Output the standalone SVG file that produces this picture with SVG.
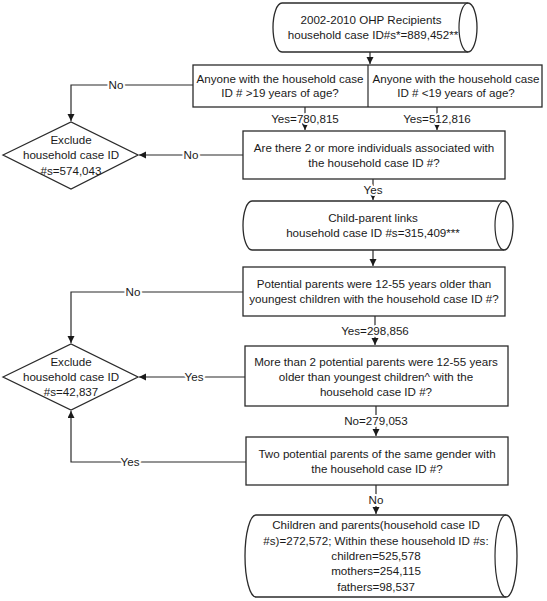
<svg xmlns="http://www.w3.org/2000/svg" width="547" height="601" viewBox="0 0 547 601">
<defs>
<style>
.shape{fill:#fff;stroke:#2b2b2b;stroke-width:1.3}
.line{fill:none;stroke:#2b2b2b;stroke-width:1.2}
text{font-family:"Liberation Sans",Arial,sans-serif;font-size:11.6px;fill:#1a1a1a;text-anchor:middle}
.lbl{stroke:#fff;stroke-width:4px;paint-order:stroke;stroke-linejoin:round}
</style>
<marker id="arr" markerUnits="userSpaceOnUse" markerWidth="8" markerHeight="8" refX="7" refY="3.5" orient="auto">
<path d="M0,0 L7,3.5 L0,7 Z" fill="#1a1a1a"/>
</marker>
</defs>
<rect width="547" height="601" fill="#fff"/>

<g id="connectors">
<path class="line" d="M370,52 V64" marker-end="url(#arr)"/>
<path class="line" d="M193,85 H71 V121" marker-end="url(#arr)"/>
<path class="line" d="M305,107 V130" marker-end="url(#arr)"/>
<path class="line" d="M437,107 V130" marker-end="url(#arr)"/>
<path class="line" d="M243,155 H139" marker-end="url(#arr)"/>
<path class="line" d="M373,179 V200" marker-end="url(#arr)"/>
<path class="line" d="M373,250 V266" marker-end="url(#arr)"/>
<path class="line" d="M243,292 H71 V343" marker-end="url(#arr)"/>
<path class="line" d="M375,316 V345" marker-end="url(#arr)"/>
<path class="line" d="M245,377 H139" marker-end="url(#arr)"/>
<path class="line" d="M376,406 V436" marker-end="url(#arr)"/>
<path class="line" d="M246,462 H71 V411" marker-end="url(#arr)"/>
<path class="line" d="M376,485 V514" marker-end="url(#arr)"/>
<text class="lbl" x="116" y="89">No</text>
<text class="lbl" x="305" y="123">Yes=780,815</text>
<text class="lbl" x="437" y="123">Yes=512,816</text>
<text class="lbl" x="191" y="159">No</text>
<text class="lbl" x="373" y="194">Yes</text>
<text class="lbl" x="133" y="296">No</text>
<text class="lbl" x="375" y="335">Yes=298,856</text>
<text class="lbl" x="194" y="381">Yes</text>
<text class="lbl" x="376" y="425">No=279,053</text>
<text class="lbl" x="130" y="466">Yes</text>
<text class="lbl" x="376" y="504">No</text>
</g>

<g id="start">
<path class="shape" d="M282,3 A9,24.5 0 0 0 282,52 L468,52 A9,24.5 0 0 0 468,3 Z"/>
<path class="line" d="M468,3 A9,24.5 0 0 0 468,52"/>
<text x="371" y="24">2002-2010 OHP Recipients</text>
<text x="373" y="39">household case ID#s*=889,452**</text>
</g>

<g id="age-check">
<rect class="shape" x="193" y="65" width="349" height="42"/>
<line class="line" x1="368" y1="65" x2="368" y2="107"/>
<text x="280" y="83">Anyone with the household case</text>
<text x="280" y="97">ID # &gt;19 years of age?</text>
<text x="456" y="83">Anyone with the household case</text>
<text x="456" y="97">ID # &lt;19 years of age?</text>
</g>

<g id="exclude1">
<polygon class="shape" points="3,155 71,122 138,155 71,189"/>
<text x="71" y="144">Exclude</text>
<text x="71" y="159">household case ID</text>
<text x="71" y="175">#s=574,043</text>
</g>

<g id="two-or-more">
<rect class="shape" x="243" y="131" width="262" height="48"/>
<text x="374" y="152">Are there 2 or more individuals associated with</text>
<text x="374" y="167">the household case ID #?</text>
</g>

<g id="child-parent-links">
<path class="shape" d="M252,201 A9,24.5 0 0 0 252,250 L504,250 A9,24.5 0 0 0 504,201 Z"/>
<path class="line" d="M504,201 A9,24.5 0 0 0 504,250"/>
<text x="373" y="222">Child-parent links</text>
<text x="373" y="237">household case ID #s=315,409***</text>
</g>

<g id="age-gap">
<rect class="shape" x="243" y="267" width="262" height="49"/>
<text x="374" y="288">Potential parents were 12-55 years older than</text>
<text x="374" y="303">youngest children with the household case ID #?</text>
</g>

<g id="exclude2">
<polygon class="shape" points="3,377 71,344 138,377 71,410"/>
<text x="71" y="366">Exclude</text>
<text x="71" y="381">household case ID</text>
<text x="71" y="396">#s=42,837</text>
</g>

<g id="more-than-two">
<rect class="shape" x="245" y="346" width="263" height="60"/>
<text x="376" y="366">More than 2 potential parents were 12-55 years</text>
<text x="376" y="381">older than youngest children^ with the</text>
<text x="376" y="396">household case ID #?</text>
</g>

<g id="same-gender">
<rect class="shape" x="246" y="437" width="262" height="48"/>
<text x="377" y="458">Two potential parents of the same gender with</text>
<text x="377" y="473">the household case ID #?</text>
</g>

<g id="result">
<path class="shape" d="M256,515 A11,41 0 0 0 256,597 L506,597 A11,41 0 0 0 506,515 Z"/>
<path class="line" d="M506,515 A11,41 0 0 0 506,597"/>
<text x="376" y="529">Children and parents(household case ID</text>
<text x="376" y="545">#s)=272,572; Within these household ID #s:</text>
<text x="376" y="560">children=525,578</text>
<text x="376" y="575">mothers=254,115</text>
<text x="376" y="591">fathers=98,537</text>
</g>
</svg>
